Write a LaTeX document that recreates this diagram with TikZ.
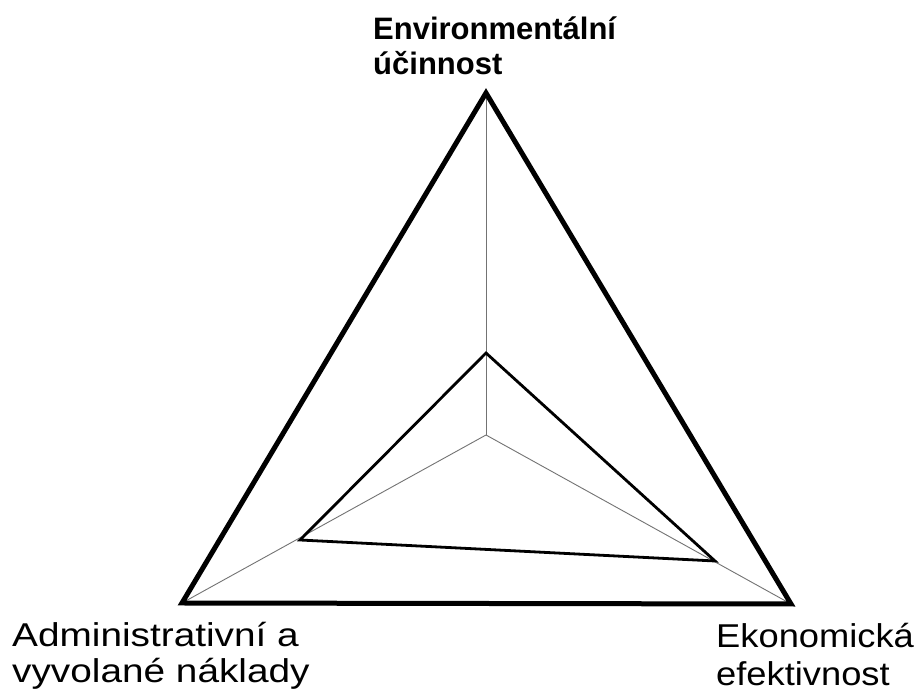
\documentclass[tikz,border=0pt]{standalone}
\usepackage{fontspec}
\setmainfont{Liberation Sans}
\newfontfamily\toplabelfont{Liberation Sans}
\newfontfamily\cornerfont[FakeStretch=1.175]{Liberation Sans}
\newfontfamily\rightcornerfont[FakeStretch=1.1]{Liberation Sans}
\begin{document}
\begin{tikzpicture}[x=1pt,y=1pt,
  outer/.style={line width=5pt,line join=miter},
  inner/.style={line width=2.8pt,line join=miter},
  spoke/.style={line width=0.9pt,draw=black!55},
  toplabel/.style={anchor=base west,inner sep=0pt,font=\toplabelfont\bfseries\fontsize{31}{35}\selectfont},
  cornerlabel/.style={anchor=base west,inner sep=0pt,font=\cornerfont\fontsize{33}{37}\selectfont},
  rightlabel/.style={anchor=base west,inner sep=0pt,font=\rightcornerfont\fontsize{33}{37}\selectfont}]
  \useasboundingbox (0,0) rectangle (918,695);
  \fill[white] (0,0) rectangle (918,695);
  \clip (0,0) rectangle (918,695);

  % vertices of the outer triangle
  \coordinate (top)   at (486,602);
  \coordinate (left)  at (182,92);
  \coordinate (right) at (791,91);
  % centre and the vertices of the inner triangle
  \coordinate (ctr)   at (486,260);
  \coordinate (itop)  at (486,342);
  \coordinate (ileft) at (300,155);
  \coordinate (iright) at (715,134);

  % spokes from the centre
  \draw[spoke] (ctr) -- (top);
  \draw[spoke] (ctr) -- (left);
  \draw[spoke] (ctr) -- (right);

  % triangles
  \draw[inner] (itop) -- (ileft) -- (iright) -- cycle;
  \draw[outer] (top) -- (left) -- (right) -- cycle;

  % labels
  \node[toplabel] (envA) at (373,655) {Environmentální};
  \node[toplabel] (envB) at (373,620) {účinnost};
  \node[cornerlabel] (admA) at (12,48) {Administrativní a};
  \node[cornerlabel] (admB) at (12,12) {vyvolané náklady};
  \node[rightlabel] (ekoA) at (716,47) {Ekonomická};
  \node[rightlabel] (ekoB) at (716,9) {efektivnost};
\end{tikzpicture}
\end{document}
